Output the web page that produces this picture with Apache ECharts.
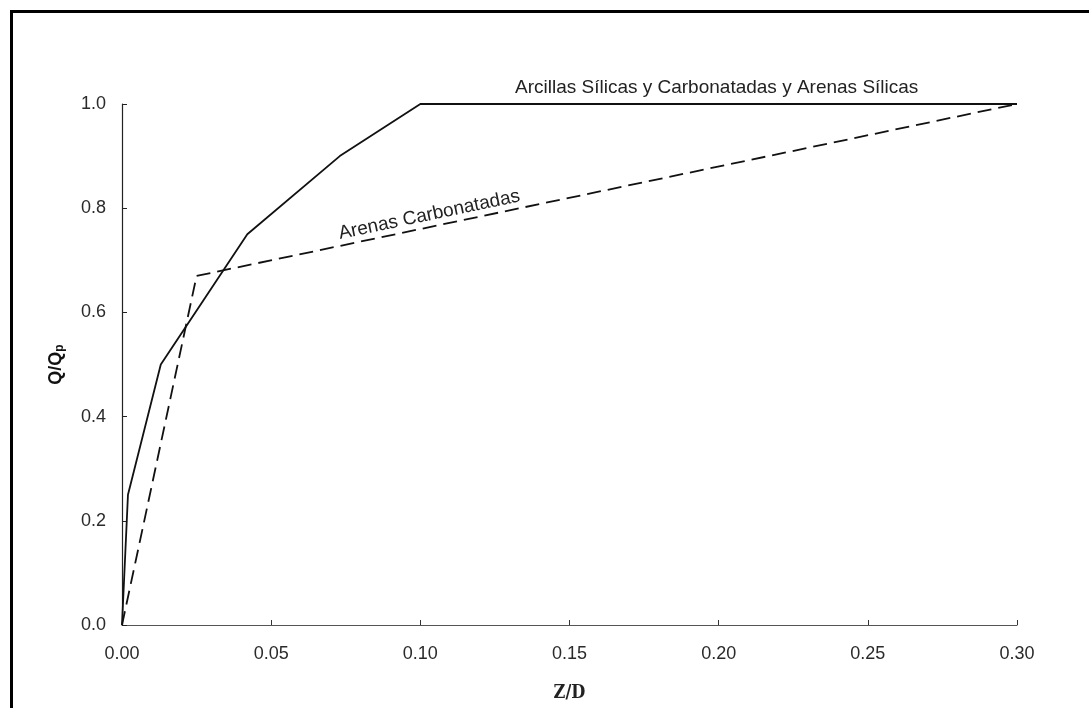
<!DOCTYPE html>
<html>
<head>
<meta charset="utf-8">
<style>
  html, body { margin: 0; padding: 0; background: #fff; }
  #chart { width: 1089px; height: 708px; }
</style>
<script src="https://cdn.jsdelivr.net/npm/echarts@6/dist/echarts.min.js"></script>
</head>
<body>
<div id="chart"></div>
<script>
// Q-z curves (normalised end bearing vs. normalised tip displacement)
const zdSilica = [0, 0.002, 0.013, 0.042, 0.073, 0.10, 0.30];
const qSilica  = [0, 0.25, 0.50, 0.75, 0.90, 1.00, 1.00];
const zdCarb   = [0, 0.025, 0.30];
const qCarb    = [0, 0.67, 1.00];
const xTicks = [0, 0.05, 0.10, 0.15, 0.20, 0.25, 0.30];
const yTicks = [0, 0.2, 0.4, 0.6, 0.8, 1.0];
const labelSilica = 'Arcillas Sílicas y Carbonatadas y Arenas Sílicas';
const labelCarb = 'Arenas Carbonatadas';

const pairs = (xs, ys) => xs.map((x, i) => [x, ys[i]]);
const font = '"Liberation Sans", Arial, sans-serif';

const chart = echarts.init(document.getElementById('chart'), null, { renderer: 'canvas' });

const option = {
  backgroundColor: '#fff',
  animation: false,
  grid: { left: 122, right: 72, top: 104, bottom: 83 },
  xAxis: {
    type: 'value', min: xTicks[0], max: xTicks[xTicks.length - 1], interval: 0.05,
    name: 'Z/D', nameLocation: 'middle', nameGap: 59,
    nameTextStyle: { fontFamily: '"DejaVu Serif Condensed", "Liberation Serif", serif', fontWeight: 'bold', fontSize: 18, color: '#222' },
    axisLine: { lineStyle: { color: '#555', width: 1.2 } },
    axisTick: { inside: true, length: 5, lineStyle: { color: '#333' } },
    axisLabel: { color: '#2a2a2a', fontFamily: font, fontSize: 18, margin: 20,
      formatter: v => v.toFixed(2) },
    splitLine: { show: false }
  },
  yAxis: {
    type: 'value', min: yTicks[0], max: yTicks[yTicks.length - 1], interval: 0.2,
    name: '{q|Q/Q}{p|p}', nameLocation: 'middle', nameGap: 56, nameRotate: 90,
    nameTextStyle: {
      rich: {
        q: { fontFamily: font, fontWeight: 'bold', fontSize: 18, color: '#111' },
        p: { fontFamily: font, fontWeight: 'bold', fontSize: 12, color: '#111', verticalAlign: 'bottom', padding: [8, 0, 0, 0] }
      }
    },
    axisLine: { show: true, lineStyle: { color: '#222', width: 1.2 } },
    axisTick: { show: true, inside: true, length: 5, lineStyle: { color: '#222' } },
    axisLabel: { color: '#2a2a2a', fontFamily: font, fontSize: 18, margin: 16,
      formatter: v => v.toFixed(1) },
    splitLine: { show: false }
  },
  series: [
    {
      type: 'line', name: labelSilica, data: pairs(zdSilica, qSilica),
      symbol: 'none', lineStyle: { color: '#111', width: 1.8 }, z: 3
    },
    {
      type: 'line', name: labelCarb, data: pairs(zdCarb, qCarb),
      symbol: 'none', lineStyle: { color: '#111', width: 1.8, type: [14, 7] }, z: 2
    }
  ]
};
chart.setOption(option);

// Curve captions placed in data coordinates, plus the outer frame
const pSil = chart.convertToPixel({ gridIndex: 0 }, [0.20, 1.0]);
const pCarb = chart.convertToPixel({ gridIndex: 0 }, [0.103, 0.787]);
const a = chart.convertToPixel({ gridIndex: 0 }, [zdCarb[1], qCarb[1]]);
const b = chart.convertToPixel({ gridIndex: 0 }, [zdCarb[2], qCarb[2]]);
const ang = Math.atan2(a[1] - b[1], b[0] - a[0]);

chart.setOption({
  graphic: [
    { type: 'rect', left: 9, top: 9, shape: { width: 1100, height: 720 },
      style: { fill: 'none', stroke: '#000', lineWidth: 3 }, silent: true },
    { type: 'text', x: pSil[0] - 2, y: pSil[1] - 7,
      style: { text: labelSilica, font: '19px ' + font, fill: '#222', align: 'center', verticalAlign: 'bottom' } },
    { type: 'text', x: pCarb[0], y: pCarb[1], rotation: ang, originX: 0, originY: 0,
      style: { text: labelCarb, font: '19px ' + font, fill: '#222', align: 'center', verticalAlign: 'middle' } }
  ]
});
</script>
</body>
</html>
